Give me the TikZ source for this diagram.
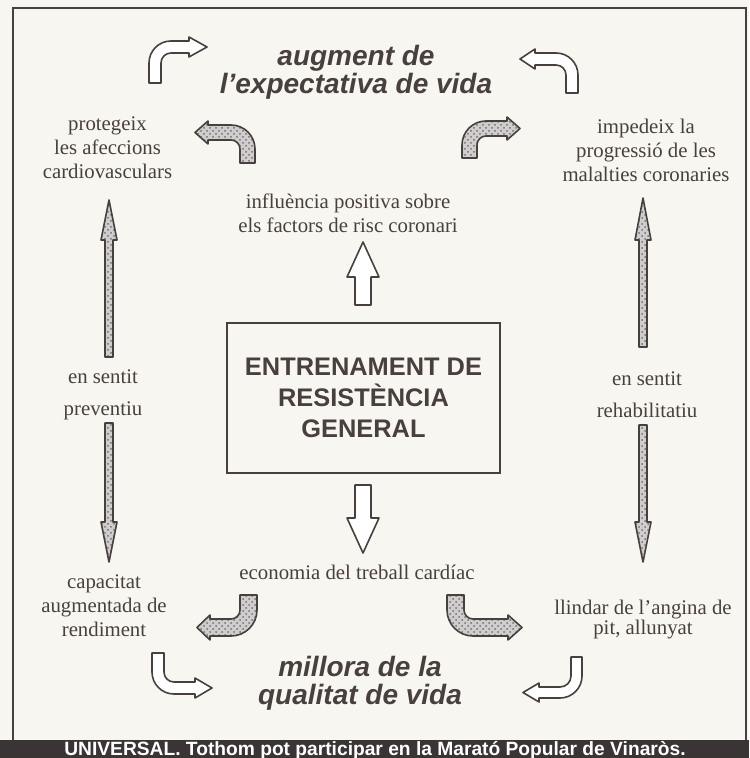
\documentclass[tikz,border=0pt]{standalone}
\usepackage{fontspec}
\setmainfont{Liberation Serif}
\newfontfamily\headfont{Liberation Sans}
\usetikzlibrary{patterns}

\definecolor{paper}{RGB}{248,246,240}
\definecolor{ink}{RGB}{72,64,62}
\definecolor{band}{RGB}{58,52,52}

\tikzset{
	txt/.style = {align=center, text=ink, inner sep=0pt, font=\fontsize{10.4}{12}\selectfont},
	head/.style = {align=center, text=ink, inner sep=0pt, font=\headfont\bfseries\itshape\fontsize{14}{12.5}\selectfont},
	core/.style = {draw=ink, line width=1pt, text=ink, align=center, minimum width=136.5pt, minimum height=75pt, font=\headfont\bfseries\fontsize{12.7}{15.5}\selectfont},
	hollow/.style = {draw=ink, fill=white, line width=0.8pt, line join=round},
	hatch/.style = {draw=ink, line width=0.8pt, line join=round, preaction={fill=ink!26}, pattern=crosshatch dots, pattern color=ink!75},
	% bent block arrow: width, height, radius, head base, tip
	bend/.style n args = {5}{insert path={
		-- (0,{-(#2-#3)}) arc[start angle=180, end angle=270, radius=#3]
		-- (#4,-#2) -- (#4,{-#2-4}) -- (#5,{-#2+#1/2}) -- (#4,{-#2+#1+4}) -- (#4,{-#2+#1})
		-- (#3,{-#2+#1}) arc[start angle=270, end angle=180, radius={#3-#1}]
		-- (#1,0) -- cycle}},
	% straight block arrow: half shaft, half head, head base, tip
	shaft/.style n args = {4}{insert path={
		(-#1,0) -- (-#1,-#3) -- (-#2,-#3) -- (0,-#4) -- (#2,-#3) -- (#1,-#3) -- (#1,0) -- cycle}}
}

\begin{document}
\begin{tikzpicture}[x=0.5pt, y=-0.5pt]

	\useasboundingbox[fill=paper] (0,0) rectangle (749,758);
	\draw[ink, line width=1.1pt] (13,8) rectangle (746,750);

	% texts
	\node[head] (expect) at (356,72) {augment de\\l’expectativa de vida};
	\node[head, font=\headfont\bfseries\itshape\fontsize{14}{14}\selectfont] (qual) at (360,683) {millora de la\\qualitat de vida};
	\node[core] (core) at (363.5,398) {ENTRENAMENT DE\\RESISTÈNCIA\\GENERAL};
	\node[txt] (prot) at (107.5,147.5) {protegeix\\les afeccions\\cardiovasculars};
	\node[txt] (imped) at (646,150.5) {impedeix la\\progressió de les\\malalties coronaries};
	\node[txt] (influ) at (348,213) {influència positiva sobre\\els factors de risc coronari};
	\node[txt, font=\fontsize{10.4}{16}\selectfont] (prev) at (103,395) {en sentit\\preventiu};
	\node[txt, font=\fontsize{10.4}{16}\selectfont] (rehab) at (647,394.5) {en sentit\\rehabilitatiu};
	\node[txt] (econ) at (357,572) {economia del treball cardíac};
	\node[txt] (capac) at (104,605.5) {capacitat\\augmentada de\\rendiment};
	\node[txt, font=\fontsize{10.4}{10}\selectfont] (llind) at (643,620) {llindar de l’angina de\\pit, allunyat};

	% anchors of the block arrows
	\coordinate (hTL) at (149,83);
	\coordinate (hTR) at (578,93);
	\coordinate (hBL) at (152,653);
	\coordinate (hBR) at (582,657);
	\coordinate (sTL) at (255,163);
	\coordinate (sTR) at (462,158);
	\coordinate (sBL) at (257,595);
	\coordinate (sBR) at (447,595);
	\coordinate (up) at (363,305);
	\coordinate (dn) at (363,485);
	\coordinate (lu) at (109,357);
	\coordinate (ld) at (109,423);
	\coordinate (ru) at (643,347);
	\coordinate (rd) at (643,425);

	% hollow bent arrows
	\draw[hollow, shift={(hTL)}] (0,0) [bend={12}{42}{22}{40}{58}];
	\draw[hollow, shift={(hTR)}, xscale=-1] (0,0) [bend={12}{40}{22}{43}{58}];
	\draw[hollow, shift={(hBL)}, yscale=-1] (0,0) [bend={12}{41}{22}{43}{60}];
	\draw[hollow, shift={(hBR)}, xscale=-1, yscale=-1] (0,0) [bend={11}{41}{22}{43}{59}];

	% shaded bent arrows
	\draw[hatch, shift={(sTL)}, xscale=-1] (0,0) [bend={15}{38}{24}{47}{60}];
	\draw[hatch, shift={(sTR)}] (0,0) [bend={15}{37}{24}{45}{58}];
	\draw[hatch, shift={(sBL)}, xscale=-1, yscale=-1] (0,0) [bend={17}{41}{26}{47}{60}];
	\draw[hatch, shift={(sBR)}, yscale=-1] (0,0) [bend={17}{41}{26}{61}{75}];

	% straight arrows
	\draw[hollow, shift={(up)}] (0,0) [shaft={8}{16}{28}{63}];
	\draw[hollow, shift={(dn)}, yscale=-1] (0,0) [shaft={8}{16}{33}{68}];
	\draw[hatch, shift={(lu)}] (0,0) [shaft={4}{8}{117}{157}];
	\draw[hatch, shift={(ld)}, yscale=-1] (0,0) [shaft={4}{8}{99}{139}];
	\draw[hatch, shift={(ru)}] (0,0) [shaft={4}{8}{107}{149}];
	\draw[hatch, shift={(rd)}, yscale=-1] (0,0) [shaft={4}{8}{97}{137}];

	% caption band
	\fill[band] (0,740) rectangle (749,758);
	\node[anchor=base, text=white, inner sep=0pt, font=\headfont\bfseries\fontsize{9.6}{11}\selectfont] (cap) at (375,755) {UNIVERSAL. Tothom pot participar en la Marató Popular de Vinaròs.};

\end{tikzpicture}
\end{document}
